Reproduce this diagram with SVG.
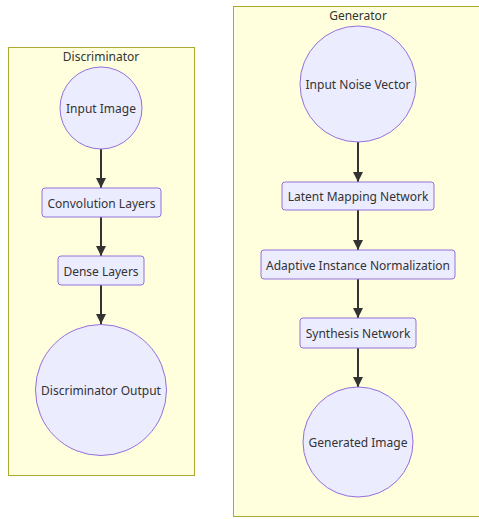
<svg xmlns="http://www.w3.org/2000/svg" width="479" height="519" viewBox="0 0 479 519">
  <style>
    .cluster { fill: #ffffde; stroke: #aaaa33; stroke-width: 1; }
    .node { fill: #ececff; stroke: #9370db; stroke-width: 1; }
    .edge { fill: none; stroke: #333333; stroke-width: 2; }
    text { font-family: "Noto Sans", "Open Sans", "DejaVu Sans", sans-serif; font-size: 12px; fill: #333333; text-anchor: middle; dominant-baseline: central; }
  </style>
  <defs>
    <marker id="arrow" viewBox="0 0 10 10" refX="10" refY="5" markerWidth="5" markerHeight="5" orient="auto" markerUnits="strokeWidth">
      <path d="M0,0 L10,5 L0,10 z" fill="#333333"/>
    </marker>
  </defs>

  <!-- clusters -->
  <g id="cluster-discriminator">
    <rect class="cluster" x="8.5" y="47.5" width="186" height="428"/>
    <text x="101" y="56">Discriminator</text>
  </g>
  <g id="cluster-generator">
    <rect class="cluster" x="233.5" y="6.5" width="250" height="510"/>
    <text x="358" y="15">Generator</text>
  </g>

  <!-- connectors -->
  <g id="edges">
    <path class="edge" d="M101,149 L101,188" marker-end="url(#arrow)"/>
    <path class="edge" d="M101,217 L101,256" marker-end="url(#arrow)"/>
    <path class="edge" d="M101,285 L101,324" marker-end="url(#arrow)"/>
    <path class="edge" d="M358,142 L358,182" marker-end="url(#arrow)"/>
    <path class="edge" d="M358,210 L358,250" marker-end="url(#arrow)"/>
    <path class="edge" d="M358,279 L358,318" marker-end="url(#arrow)"/>
    <path class="edge" d="M358,348 L358,387" marker-end="url(#arrow)"/>
  </g>

  <!-- discriminator nodes -->
  <g id="input-image">
    <circle class="node" cx="101" cy="108" r="41"/>
    <text x="101" y="108">Input Image</text>
  </g>
  <g id="convolution-layers">
    <rect class="node" x="42" y="188" width="119" height="29" rx="3"/>
    <text x="101.5" y="203">Convolution Layers</text>
  </g>
  <g id="dense-layers">
    <rect class="node" x="58" y="256" width="86" height="29" rx="3"/>
    <text x="101" y="271">Dense Layers</text>
  </g>
  <g id="discriminator-output">
    <circle class="node" cx="101" cy="390" r="65.5"/>
    <text x="101" y="390">Discriminator Output</text>
  </g>

  <!-- generator nodes -->
  <g id="input-noise-vector">
    <circle class="node" cx="358" cy="84" r="58"/>
    <text x="358" y="84">Input Noise Vector</text>
  </g>
  <g id="latent-mapping-network">
    <rect class="node" x="282" y="182" width="152" height="28" rx="3"/>
    <text x="358" y="196">Latent Mapping Network</text>
  </g>
  <g id="adaptive-instance-normalization">
    <rect class="node" x="261" y="250" width="194" height="29" rx="3"/>
    <text x="358" y="265">Adaptive Instance Normalization</text>
  </g>
  <g id="synthesis-network">
    <rect class="node" x="300" y="318" width="116" height="30" rx="3"/>
    <text x="358" y="333">Synthesis Network</text>
  </g>
  <g id="generated-image">
    <circle class="node" cx="358" cy="442" r="55"/>
    <text x="358" y="442">Generated Image</text>
  </g>
</svg>
